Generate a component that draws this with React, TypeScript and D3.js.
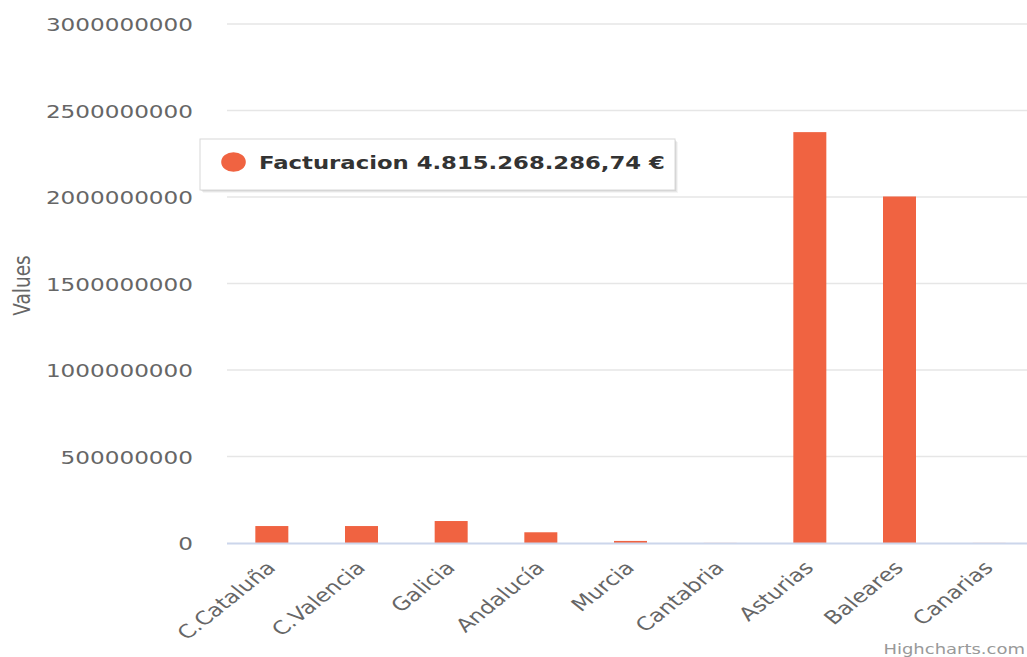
import React from "react";
import * as d3 from "d3";

const categories = ["C.Cataluña", "C.Valencia", "Galicia", "Andalucía", "Murcia", "Cantabria", "Asturias", "Baleares", "Canarias"];
const values = [98000000, 98000000, 127000000, 62000000, 12000000, 500000, 2375000000, 2003000000, 500000];
const yTicks = [0, 500000000, 1000000000, 1500000000, 2000000000, 2500000000, 3000000000];
const seriesName = "Facturacion";
const legendValue = "4.815.268.286,74 €";
const axisTitle = "Values";
const credit = "Highcharts.com";

const W = 1027;
const H = 657;
const S = 1.25; // horizontal stretch of the picture
const left = 227;
const right = 1034;
const top = 24;
const bottom = 543;
const barColor = "#f06341";

export default function App() {
  const x = d3.scaleBand<string>().domain(categories).range([left, right]).paddingInner(0).paddingOuter(0);
  const y = d3.scaleLinear().domain([0, 3000000000]).range([bottom, top]);
  const bw = 33;
  const font = "'DejaVu Sans', Verdana, sans-serif";

  return (
    <svg width={W} height={H} style={{ position: "absolute", left: 0, top: 0, background: "#fff" }} fontFamily={font}>
      <rect x={0} y={0} width={W} height={H} fill="#fff" />
      {yTicks.map((t) => (
        <g key={t}>
          {t !== 0 && <line x1={left} x2={W} y1={y(t)} y2={y(t)} stroke="#e6e6e6" strokeWidth={1.5} />}
          <text transform={`translate(193,${y(t) + 7}) scale(${S},1)`} textAnchor="end" fontSize={18.5} fill="#666">
            {String(t)}
          </text>
        </g>
      ))}
      <text transform={`translate(22,${(top + bottom) / 2 + 2}) scale(${S},1) rotate(-90)`} textAnchor="middle" dy="0.35em" fontSize={18.5} fill="#666">
        {axisTitle}
      </text>
      {categories.map((c, i) => {
        const cx = (x(c) as number) + x.bandwidth() / 2;
        const v = values[i];
        return (
          <g key={c}>
            <rect x={cx - bw / 2} y={y(v)} width={bw} height={bottom - y(v)} fill={barColor} />
            <text transform={`translate(${cx + 5},${bottom + 26}) scale(${S},1) rotate(-45)`} textAnchor="end" fontSize={18.5} fill="#666">
              {c}
            </text>
          </g>
        );
      })}
      <line x1={left} x2={W} y1={bottom + 0.5} y2={bottom + 0.5} stroke="#ccd6eb" strokeWidth={1.8} />
      <g>
        <rect x={203} y={142} width={475} height={51} fill="#000" opacity={0.04} />
        <rect x={202} y={141} width={475} height={51} fill="#000" opacity={0.06} />
        <rect x={201} y={140} width={475} height={51} fill="#000" opacity={0.08} />
        <rect x={200} y={139} width={475} height={51} fill="#fff" stroke="#d8d8d8" strokeWidth={1} />
        <ellipse cx={233.5} cy={162} rx={12.3} ry={9.8} fill={barColor} />
        <text transform={`translate(259,169) scale(${S},1)`} fontSize={18.2} fontWeight="bold" fill="#333">
          {`${seriesName} ${legendValue}`}
        </text>
      </g>
      <text transform={`translate(1025,654) scale(${S},1)`} textAnchor="end" fontSize={14.4} fill="#999">
        {credit}
      </text>
    </svg>
  );
}
